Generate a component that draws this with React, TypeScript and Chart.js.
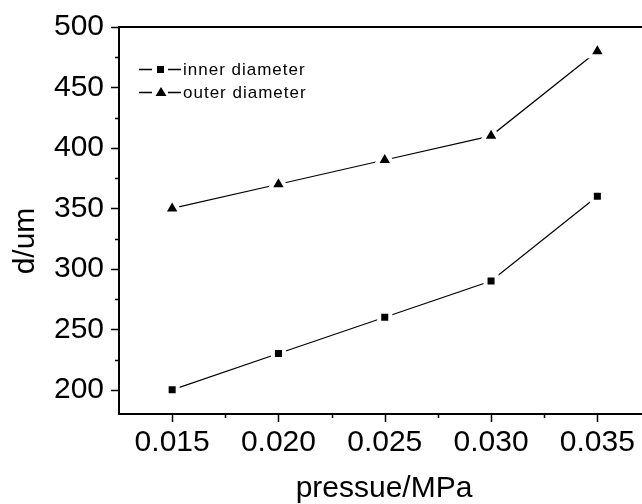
import React, { useEffect, useRef } from "react";
import { Chart, registerables } from "chart.js";

Chart.register(...registerables);

// Measured diameters against gas pressure
const pressure = [0.015, 0.02, 0.025, 0.03, 0.035];
const innerDiameter = [200, 230, 260, 290, 360];
const outerDiameter = [350, 370, 390, 410, 480];

// Axis ticks
const xTicks = [0.015, 0.02, 0.025, 0.03, 0.035];
const xMinorTicks = [0.0175, 0.0225, 0.0275, 0.0325];
const yTicks = [200, 250, 300, 350, 400, 450, 500];
const yMinorTicks = [225, 275, 325, 375, 425, 475];

const seriesLabels = ["inner diameter", "outer diameter"];
const xTitle = "pressue/MPa";
const yTitle = "d/um";

const FONT = '"Liberation Sans", Arial, Helvetica, sans-serif';

// Frame, tick marks, axis titles and the in-plot legend
const decorations = {
  id: "decorations",
  afterDraw(chart: any) {
    const { ctx, chartArea } = chart;
    const { left, right, top, bottom } = chartArea;
    const xs = chart.scales.x;
    const ys = chart.scales.y;
    ctx.save();
    ctx.strokeStyle = "#000";
    ctx.fillStyle = "#000";

    // frame: left, bottom and top lines
    ctx.lineWidth = 2;
    ctx.beginPath();
    ctx.moveTo(right, top);
    ctx.lineTo(left, top);
    ctx.lineTo(left, bottom);
    ctx.lineTo(right, bottom);
    ctx.stroke();

    // tick marks pointing outward
    ctx.lineWidth = 1.5;
    ctx.beginPath();
    yTicks.forEach((v) => {
      const y = Math.round(ys.getPixelForValue(v)) + 0.5;
      ctx.moveTo(left - 8, y);
      ctx.lineTo(left, y);
    });
    yMinorTicks.forEach((v) => {
      const y = Math.round(ys.getPixelForValue(v)) + 0.5;
      ctx.moveTo(left - 4, y);
      ctx.lineTo(left, y);
    });
    xTicks.forEach((v) => {
      const x = Math.round(xs.getPixelForValue(v)) + 0.5;
      ctx.moveTo(x, bottom);
      ctx.lineTo(x, bottom + 8);
    });
    xMinorTicks.forEach((v) => {
      const x = Math.round(xs.getPixelForValue(v)) + 0.5;
      ctx.moveTo(x, bottom);
      ctx.lineTo(x, bottom + 4);
    });
    ctx.stroke();

    // axis titles
    ctx.font = `30px ${FONT}`;
    ctx.textAlign = "center";
    ctx.textBaseline = "middle";
    ctx.fillText(xTitle, 384, 489);
    ctx.save();
    ctx.translate(26, 241);
    ctx.rotate(-Math.PI / 2);
    ctx.fillText(yTitle, 0, 0);
    ctx.restore();

    // legend
    const rows = [69, 92];
    ctx.font = `17px ${FONT}`;
    ctx.textAlign = "left";
    (ctx as any).letterSpacing = "1px";
    rows.forEach((y, i) => {
      ctx.lineWidth = 1.5;
      ctx.beginPath();
      ctx.moveTo(139, y + 0.5);
      ctx.lineTo(152, y + 0.5);
      ctx.moveTo(168, y + 0.5);
      ctx.lineTo(181, y + 0.5);
      ctx.stroke();
      ctx.beginPath();
      if (i === 0) {
        ctx.rect(157, y - 3, 7, 7);
      } else {
        ctx.moveTo(161, y - 5);
        ctx.lineTo(166.5, y + 4);
        ctx.lineTo(155.5, y + 4);
        ctx.closePath();
      }
      ctx.fill();
      ctx.fillText(seriesLabels[i], 183, y + 1);
    });
    ctx.restore();
  },
};

export default function App() {
  const canvasRef = useRef<HTMLCanvasElement | null>(null);

  useEffect(() => {
    const canvas = canvasRef.current;
    if (!canvas) return;
    const chart = new Chart(canvas, {
      type: "line",
      data: {
        datasets: [
          {
            label: seriesLabels[0],
            data: pressure.map((x, i) => ({ x, y: innerDiameter[i] })),
            borderColor: "#000",
            borderWidth: 1.2,
            pointStyle: "rect",
            pointRadius: 7.8,
            pointBackgroundColor: "#000",
            pointBorderColor: "#fff",
            pointBorderWidth: 4,
            fill: false,
            tension: 0,
          },
          {
            label: seriesLabels[1],
            data: pressure.map((x, i) => ({ x, y: outerDiameter[i] })),
            borderColor: "#000",
            borderWidth: 1.2,
            pointStyle: "triangle",
            pointRadius: 10,
            pointBackgroundColor: "#000",
            pointBorderColor: "#fff",
            pointBorderWidth: 4,
            fill: false,
            tension: 0,
          },
        ],
      },
      options: {
        animation: false,
        responsive: false,
        devicePixelRatio: 1,
        layout: { autoPadding: false, padding: { top: 27, right: 0, left: 0, bottom: 0 } },
        plugins: {
          legend: { display: false },
          tooltip: { enabled: false },
          title: { display: false },
        },
        scales: {
          x: {
            type: "linear",
            min: 0.0125,
            max: 0.0371,
            // tick marks are drawn by the decorations plugin; tickLength only spaces the labels
            grid: { display: false, drawTicks: true, tickLength: 11 },
            border: { display: false },
            afterBuildTicks: (scale: any) => {
              scale.ticks = xTicks.map((value) => ({ value }));
            },
            afterFit: (scale: any) => {
              scale.height = 90;
              scale.paddingLeft = 0;
              scale.paddingRight = 0;
            },
            ticks: {
              color: "#000",
              padding: 0,
              maxRotation: 0,
              autoSkip: false,
              font: { family: FONT, size: 30 },
              callback: (v: any) => Number(v).toFixed(3),
            },
          },
          y: {
            type: "linear",
            min: 180,
            max: 500,
            grid: { display: false, drawTicks: true, tickLength: 15 },
            border: { display: false },
            afterBuildTicks: (scale: any) => {
              scale.ticks = yTicks.map((value) => ({ value }));
            },
            afterFit: (scale: any) => {
              scale.width = 119;
              scale.paddingTop = 0;
              scale.paddingBottom = 0;
            },
            ticks: {
              color: "#000",
              padding: 0,
              autoSkip: false,
              font: { family: FONT, size: 30, lineHeight: 1 },
              callback: (v: any) => String(v),
            },
          },
        },
      },
      plugins: [decorations],
    });
    return () => chart.destroy();
  }, []);

  return (
    <div style={{ position: "absolute", left: 0, top: 0, width: 642, height: 504, background: "#fff" }}>
      <canvas ref={canvasRef} width={642} height={504} style={{ display: "block" }} />
    </div>
  );
}
